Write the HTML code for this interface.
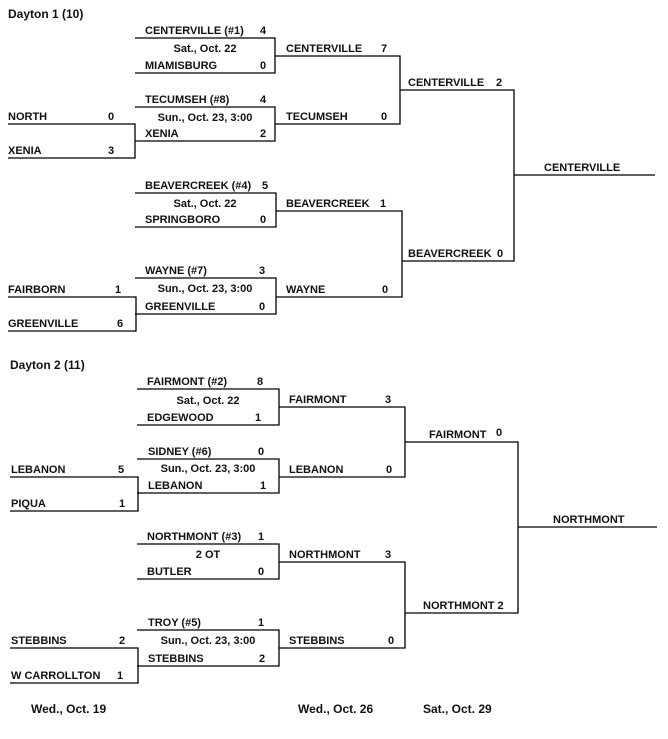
<!DOCTYPE html>
<html><head><meta charset="utf-8"><style>
html,body{margin:0;padding:0;background:#fff;}
svg{display:block;}
text{font-family:"Liberation Sans",Arial,sans-serif;font-weight:bold;font-size:11px;fill:#111;}
line,path{stroke:#000;stroke-width:1.3;fill:none;}
</style></head><body>
<svg width="668" height="739" viewBox="0 0 668 739">
<text x="8" y="18" style="font-size:12px">Dayton 1 (10)</text>
<path d="M135,38 H275 V73 H135"/>
<text x="145" y="34">CENTERVILLE (#1)</text><text x="260" y="34">4</text>
<text x="205" y="52" text-anchor="middle">Sat., Oct. 22</text>
<text x="145" y="69">MIAMISBURG</text><text x="260" y="69">0</text>
<path d="M135,107 H275 V141 H135"/>
<path d="M8,124 H135 V158 H8"/>
<text x="8" y="120">NORTH</text><text x="108" y="120">0</text>
<text x="8" y="154">XENIA</text><text x="108" y="154">3</text>
<text x="145" y="103">TECUMSEH (#8)</text><text x="260" y="103">4</text>
<text x="205" y="121" text-anchor="middle">Sun., Oct. 23, 3:00</text>
<text x="145" y="137">XENIA</text><text x="260" y="137">2</text>
<path d="M275,56 H400 V124 H275"/>
<text x="286" y="52">CENTERVILLE</text><text x="381" y="52">7</text>
<text x="286" y="120">TECUMSEH</text><text x="381" y="120">0</text>
<path d="M135,193 H276 V227 H135"/>
<text x="145" y="189">BEAVERCREEK (#4)</text><text x="262" y="189">5</text>
<text x="205" y="207" text-anchor="middle">Sat., Oct. 22</text>
<text x="145" y="223">SPRINGBORO</text><text x="260" y="223">0</text>
<path d="M135,278 H276 V314 H135"/>
<path d="M8,297 H136 V331 H8"/>
<text x="8" y="293">FAIRBORN</text><text x="115" y="293">1</text>
<text x="8" y="327">GREENVILLE</text><text x="117" y="327">6</text>
<text x="145" y="274">WAYNE (#7)</text><text x="259" y="274">3</text>
<text x="205" y="292" text-anchor="middle">Sun., Oct. 23, 3:00</text>
<text x="145" y="310">GREENVILLE</text><text x="259" y="310">0</text>
<path d="M276,211 H402 V297 H276"/>
<text x="286" y="207">BEAVERCREEK</text><text x="380" y="207">1</text>
<text x="286" y="293">WAYNE</text><text x="382" y="293">0</text>
<path d="M400,90 H514 V261 H402"/>
<text x="408" y="86">CENTERVILLE</text><text x="496" y="86">2</text>
<text x="408" y="257">BEAVERCREEK</text><text x="497" y="257">0</text>
<line x1="514" y1="175" x2="655" y2="175"/>
<text x="544" y="171">CENTERVILLE</text>

<text x="10" y="369" style="font-size:12px">Dayton 2 (11)</text>
<path d="M137,389 H279 V425 H137"/>
<text x="147" y="385">FAIRMONT (#2)</text><text x="257" y="385">8</text>
<text x="208" y="404" text-anchor="middle">Sat., Oct. 22</text>
<text x="147" y="421">EDGEWOOD</text><text x="255" y="421">1</text>
<path d="M137,459 H279 V493 H137"/>
<path d="M10,477 H138 V511 H10"/>
<text x="11" y="473">LEBANON</text><text x="118" y="473">5</text>
<text x="11" y="507">PIQUA</text><text x="119" y="507">1</text>
<text x="148" y="455">SIDNEY (#6)</text><text x="258" y="455">0</text>
<text x="208" y="472" text-anchor="middle">Sun., Oct. 23, 3:00</text>
<text x="148" y="489">LEBANON</text><text x="260" y="489">1</text>
<path d="M279,407 H405 V477 H279"/>
<text x="289" y="403">FAIRMONT</text><text x="385" y="403">3</text>
<text x="289" y="473">LEBANON</text><text x="386" y="473">0</text>
<path d="M137,544 H279 V579 H137"/>
<text x="147" y="540">NORTHMONT (#3)</text><text x="258" y="540">1</text>
<text x="208" y="558" text-anchor="middle">2 OT</text>
<text x="147" y="575">BUTLER</text><text x="258" y="575">0</text>
<path d="M137,630 H279 V666 H137"/>
<path d="M10,648 H138 V683 H10"/>
<text x="11" y="644">STEBBINS</text><text x="119" y="644">2</text>
<text x="11" y="679">W CARROLLTON</text><text x="117" y="679">1</text>
<text x="148" y="626">TROY (#5)</text><text x="258" y="626">1</text>
<text x="208" y="644" text-anchor="middle">Sun., Oct. 23, 3:00</text>
<text x="148" y="662">STEBBINS</text><text x="259" y="662">2</text>
<path d="M279,562 H405 V648 H279"/>
<text x="289" y="558">NORTHMONT</text><text x="385" y="558">3</text>
<text x="289" y="644">STEBBINS</text><text x="388" y="644">0</text>
<path d="M405,442 H518 V613 H405"/>
<text x="429" y="438">FAIRMONT</text><text x="496" y="436">0</text>
<text x="423" y="609">NORTHMONT 2</text>
<line x1="518" y1="527" x2="657" y2="527"/>
<text x="553" y="523">NORTHMONT</text>

<text x="31" y="713" style="font-size:12px">Wed., Oct. 19</text>
<text x="298" y="713" style="font-size:12px">Wed., Oct. 26</text>
<text x="423" y="713" style="font-size:12px">Sat., Oct. 29</text>
</svg>
</body></html>
